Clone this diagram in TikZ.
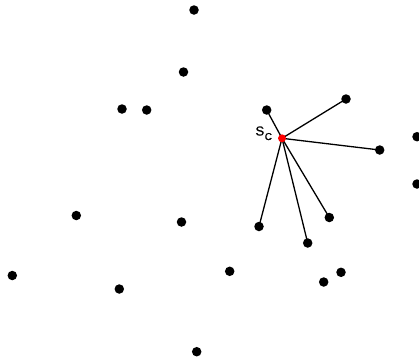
\documentclass[tikz,border=0pt]{standalone}
\usepackage{fontspec}
\setmainfont{Liberation Sans}
\newfontfamily\labelfont[FakeBold=1]{Liberation Sans}
\begin{document}
\begin{tikzpicture}[x=1pt,y=-1pt,
  pt/.style={circle,fill=black,inner sep=0pt,minimum size=9.5pt},
  src/.style={circle,fill=red,inner sep=0pt,minimum size=8pt},
  link/.style={line width=1.3pt}]
\useasboundingbox (0,0) rectangle (419,362);
\clip (0,0) rectangle (419,362);
% scattered points
\node[pt] (p1) at (194,10) {};
\node[pt] (p2) at (183.5,72) {};
\node[pt] (p3) at (122,109) {};
\node[pt] (p4) at (146.7,110) {};
\node[pt] (p5) at (417,136.7) {};
\node[pt] (p6) at (417,184) {};
\node[pt] (p7) at (76.3,215.5) {};
\node[pt] (p8) at (181.5,222) {};
\node[pt] (p9) at (12.3,275.5) {};
\node[pt] (p10) at (119.3,289) {};
\node[pt] (p11) at (229.7,271.3) {};
\node[pt] (p12) at (341,272.3) {};
\node[pt] (p13) at (323.7,282) {};
\node[pt] (p14) at (196.7,351.7) {};
% neighbours of the source
\node[pt] (n1) at (266.7,110) {};
\node[pt] (n2) at (346,99) {};
\node[pt] (n3) at (379.7,150) {};
\node[pt] (n4) at (259,226.5) {};
\node[pt] (n5) at (307.7,243) {};
\node[pt] (n6) at (329.3,217.5) {};
% source node and its links
\coordinate (sc) at (282,138.3);
\foreach \n in {n1,n2,n3,n4,n5,n6} \draw[link] (sc) -- (\n.center);
\node[src] (s) at (sc) {};
\node[anchor=base west,inner sep=0pt,text=black,font=\labelfont\fontsize{13}{15}\selectfont] (lbl) at (255.3,135.5)
  {S\kern0.6pt\raisebox{-4.5pt}{\fontsize{10}{12}\selectfont C}};
\end{tikzpicture}
\end{document}
